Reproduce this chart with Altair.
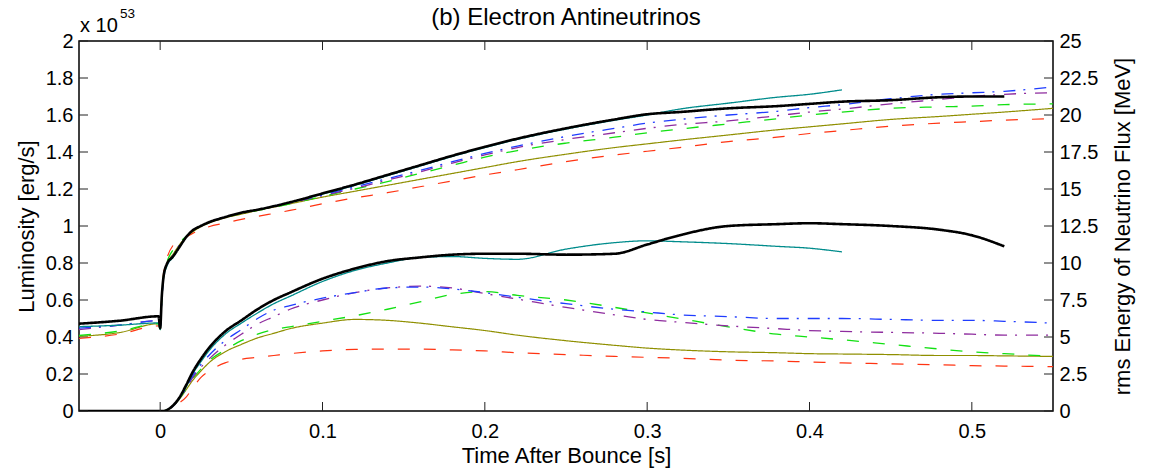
import altair as alt
import pandas as pd

# ---------------------------------------------------------------- data
# Time after bounce [s] for the luminosity curves
T_LUM = [-0.05, 0.002, 0.004, 0.008, 0.012, 0.016, 0.02, 0.025, 0.03, 0.04,
         0.05, 0.06, 0.07, 0.08,
         0.1, 0.12, 0.14, 0.16, 0.18, 0.2, 0.22, 0.25, 0.28, 0.3,
         0.32, 0.35, 0.38, 0.4, 0.42,
         0.45, 0.48, 0.5, 0.52, 0.55]

# Electron antineutrino luminosity [1e53 erg/s]
LUM_BLACK = [0, 0, 0.005, 0.03, 0.075, 0.14, 0.21, 0.28, 0.34, 0.43,
             0.49, 0.55, 0.60, 0.64,
             0.715, 0.77, 0.81, 0.83, 0.845, 0.85, 0.85, 0.845, 0.85, 0.90,
             0.95, 1.0, 1.01, 1.015, 1.01,
             1.0, 0.98, 0.95, 0.89, None]
LUM_TEAL = [0, 0, 0.005, 0.028, 0.07, 0.13, 0.20, 0.265, 0.325, 0.415,
            0.475, 0.53, 0.58, 0.62,
            0.70, 0.76, 0.80, 0.83, 0.835, 0.825, 0.82, 0.875, 0.91, 0.92,
            0.915, 0.905, 0.89, 0.88, 0.86,
            None, None, None, None, None]
LUM_BLUE = [0, 0, 0.005, 0.028, 0.07, 0.125, 0.19, 0.25, 0.30, 0.38,
            0.44, 0.50, 0.545, 0.57,
            0.61, 0.64, 0.665, 0.67, 0.66, 0.64, 0.615, 0.58, 0.55, 0.535,
            0.52, 0.51, 0.50, 0.50, 0.50,
            0.495, 0.49, 0.49, 0.485, 0.475]
LUM_PURPLE = [0, 0, 0.005, 0.028, 0.07, 0.12, 0.18, 0.235, 0.28, 0.355,
              0.415, 0.47, 0.51, 0.55,
              0.60, 0.64, 0.665, 0.675, 0.665, 0.635, 0.605, 0.56, 0.52, 0.495,
              0.48, 0.46, 0.445, 0.435, 0.43,
              0.425, 0.42, 0.415, 0.41, 0.41]
LUM_GREEN = [0, 0, 0.005, 0.028, 0.07, 0.12, 0.175, 0.225, 0.27, 0.33,
             0.38, 0.415, 0.44, 0.455,
             0.485, 0.515, 0.55, 0.59, 0.63, 0.645, 0.625, 0.60, 0.56, 0.53,
             0.50, 0.455, 0.415, 0.40, 0.385,
             0.36, 0.335, 0.32, 0.31, 0.295]
LUM_OLIVE = [0, 0, 0.005, 0.027, 0.065, 0.115, 0.165, 0.215, 0.26, 0.32,
             0.36, 0.395, 0.42, 0.445,
             0.475, 0.495, 0.49, 0.475, 0.455, 0.435, 0.41, 0.38, 0.355, 0.34,
             0.33, 0.32, 0.315, 0.31, 0.308,
             0.305, 0.30, 0.30, 0.298, 0.295]
LUM_RED = [0, 0, 0.004, 0.02, 0.045, 0.075, 0.125, 0.18, 0.215, 0.26,
           0.28, 0.29, 0.30, 0.31,
           0.325, 0.333, 0.335, 0.335, 0.33, 0.325, 0.315, 0.305, 0.295, 0.29,
           0.285, 0.275, 0.27, 0.265, 0.26,
           0.255, 0.25, 0.245, 0.243, 0.24]

# Time after bounce [s] for the rms energy curves
T_ERMS = [-0.05, -0.025, -0.001, 0.0, 0.001, 0.002, 0.004, 0.008, 0.012, 0.016,
          0.02, 0.025, 0.03, 0.04, 0.05, 0.06, 0.08,
          0.1, 0.12, 0.14, 0.16, 0.18, 0.2, 0.22, 0.25, 0.28, 0.3,
          0.32, 0.35, 0.38, 0.4, 0.42, 0.45, 0.48, 0.5, 0.52, 0.55]

# rms energy of the neutrino flux [MeV]
ERMS_BLACK = [5.9, 6.1, 6.4, 5.6, 7.75, 9.0, 9.9, 10.45, 11.1, 11.75,
              12.2, 12.5, 12.75, 13.1, 13.4, 13.6, 14.1,
              14.7, 15.3, 15.95, 16.6, 17.25, 17.85, 18.4, 19.1, 19.7, 20.05,
              20.2, 20.45, 20.6, 20.75, 20.9, 21.0, 21.2, 21.25, 21.25, None]
ERMS_TEAL = [5.7, 5.8, 5.95, 5.5, 7.5, 8.9, 9.75, 10.4, 11.1, 11.75,
             12.2, 12.5, 12.75, 13.1, 13.4, 13.6, 14.1,
             14.65, 15.25, 15.9, 16.55, 17.2, 17.8, 18.35, 19.05, 19.65, 20.0,
             20.4, 20.8, 21.2, 21.4, 21.7, None, None, None, None, None]
ERMS_BLUE = [5.6, 5.8, 6.1, 5.5, 7.5, 8.9, 9.75, 10.5, 11.2, 11.75,
             12.2, 12.5, 12.75, 13.1, 13.4, 13.6, 14.1,
             14.6, 15.15, 15.7, 16.25, 16.85, 17.4, 17.9, 18.55, 19.1, 19.45,
             19.7, 20.0, 20.25, 20.5, 20.7, 21.1, 21.4, 21.5, 21.6, 21.9]
ERMS_PURPLE = [5.5, 5.8, 6.1, 5.5, 7.5, 8.9, 9.75, 10.5, 11.2, 11.75,
               12.2, 12.5, 12.75, 13.1, 13.4, 13.6, 14.05,
               14.55, 15.05, 15.6, 16.15, 16.75, 17.3, 17.8, 18.35, 18.8, 19.1,
               19.35, 19.6, 19.95, 20.2, 20.4, 20.75, 21.05, 21.25, 21.4, 21.5]
ERMS_GREEN = [5.1, 5.4, 5.9, 5.5, 7.75, 9.1, 10.0, 10.9, 11.4, 11.8,
              12.2, 12.5, 12.75, 13.1, 13.35, 13.55, 14.0,
              14.5, 15.0, 15.5, 16.05, 16.6, 17.15, 17.6, 18.1, 18.5, 18.8,
              19.05, 19.4, 19.75, 20.0, 20.2, 20.45, 20.55, 20.6, 20.7, 20.75]
ERMS_OLIVE = [5.05, 5.3, 5.9, 5.6, 7.5, 9.0, 9.9, 10.6, 11.25, 11.75,
              12.1, 12.45, 12.7, 13.05, 13.3, 13.55, 14.0,
              14.45, 14.85, 15.25, 15.65, 16.05, 16.45, 16.85, 17.35, 17.8, 18.05,
              18.3, 18.65, 19.0, 19.2, 19.4, 19.7, 19.9, 20.05, 20.2, 20.45]
ERMS_RED = [4.9, 5.2, 5.75, 5.6, 7.75, 9.25, 10.25, 11.2, 11.5, 11.75,
            12.0, 12.25, 12.45, 12.7, 12.95, 13.15, 13.55,
            14.0, 14.4, 14.75, 15.15, 15.55, 15.95, 16.3, 16.85, 17.3, 17.55,
            17.8, 18.2, 18.5, 18.75, 18.95, 19.25, 19.45, 19.55, 19.65, 19.75]

# Axis ticks
X_TICKS = [0, 0.1, 0.2, 0.3, 0.4, 0.5]
LUM_TICKS = [0, 0.2, 0.4, 0.6, 0.8, 1.0, 1.2, 1.4, 1.6, 1.8, 2.0]
ERMS_TICKS = [0, 2.5, 5, 7.5, 10, 12.5, 15, 17.5, 20, 22.5, 25]

TITLE = "(b) Electron Antineutrinos"
X_TITLE = "Time After Bounce [s]"
LUM_TITLE = "Luminosity [erg/s]"
ERMS_TITLE = "rms Energy of Neutrino Flux [MeV]"
EXP_BASE = "x 10"
EXP_POWER = "53"

# ---------------------------------------------------------------- styling
W, H = 974, 370
FONT = "Liberation Sans"
TICK_LEN = 9

STYLE = {
    "red":    dict(color="#ff3412", width=1.2, dash=[12, 14]),
    "olive":  dict(color="#8f8f00", width=1.2, dash=[1, 0]),
    "green":  dict(color="#12e012", width=1.3, dash=[12, 14]),
    "purple": dict(color="#8e2c9e", width=1.3, dash=[12, 8, 2, 9]),
    "blue":   dict(color="#1f3cff", width=1.3, dash=[12, 8, 2, 9]),
    "teal":   dict(color="#008c8c", width=1.3, dash=[1, 0]),
    "black":  dict(color="#000000", width=2.6, dash=[1, 0]),
}
ORDER = ["red", "olive", "green", "purple", "blue", "teal", "black"]  # black drawn last

LUM = {"black": LUM_BLACK, "teal": LUM_TEAL, "blue": LUM_BLUE, "purple": LUM_PURPLE,
       "green": LUM_GREEN, "olive": LUM_OLIVE, "red": LUM_RED}
ERMS = {"black": ERMS_BLACK, "teal": ERMS_TEAL, "blue": ERMS_BLUE, "purple": ERMS_PURPLE,
        "green": ERMS_GREEN, "olive": ERMS_OLIVE, "red": ERMS_RED}


def series_frame(times, values):
    df = pd.DataFrame({"t": times, "value": pd.to_numeric(pd.Series(values), errors="coerce")})
    return df.dropna()


x_scale = alt.Scale(domain=[-0.05, 0.55], nice=False, zero=False)
lum_scale = alt.Scale(domain=[0, 2], nice=False, zero=False)
erms_scale = alt.Scale(domain=[0, 25], nice=False, zero=False)

common_axis = dict(grid=False, ticks=False, domain=False, labelFont=FONT, titleFont=FONT,
                   labelFontSize=20, titleFontSize=22, titleFontWeight="normal",
                   labelColor="black", titleColor="black", format=".1~f",
                   labelFlush=False, labelOverlap=False)

x_axis = alt.Axis(values=X_TICKS, title=X_TITLE, labelPadding=10,
                  titleY=51, titleBaseline="alphabetic", **common_axis)
lum_axis = alt.Axis(orient="left", values=LUM_TICKS, title=LUM_TITLE, labelPadding=6,
                    titleX=-46, titleY=H / 2, titleAngle=270, titleAlign="center",
                    titleBaseline="alphabetic", **common_axis)
erms_axis = alt.Axis(orient="right", values=ERMS_TICKS, title=ERMS_TITLE, labelPadding=6,
                     titleX=76, titleY=H / 2, titleAngle=270, titleAlign="center",
                     titleBaseline="alphabetic", **common_axis)

X = alt.X("t:Q", scale=x_scale, axis=x_axis)
Y_LUM = alt.Y("value:Q", scale=lum_scale, axis=lum_axis)
Y_ERMS = alt.Y("value:Q", scale=erms_scale, axis=erms_axis)


def curve(times, values, key, y):
    s = STYLE[key]
    return alt.Chart(series_frame(times, values)).mark_line(
        color=s["color"], strokeWidth=s["width"], strokeDash=s["dash"],
        interpolate="monotone", clip=True,
    ).encode(x=X, y=y)


# inward ticks on all four sides
x_tick_df = pd.DataFrame({"t": X_TICKS})
bottom_ticks = alt.Chart(x_tick_df).mark_rule(color="#222", strokeWidth=1).encode(
    x=X, y=alt.value(H), y2=alt.value(H - TICK_LEN))
top_ticks = alt.Chart(x_tick_df).mark_rule(color="#222", strokeWidth=1).encode(
    x=X, y=alt.value(0), y2=alt.value(TICK_LEN))
left_ticks = alt.Chart(pd.DataFrame({"value": LUM_TICKS})).mark_rule(
    color="#222", strokeWidth=1).encode(y=Y_LUM, x=alt.value(0), x2=alt.value(TICK_LEN))
right_ticks = alt.Chart(pd.DataFrame({"value": ERMS_TICKS})).mark_rule(
    color="#222", strokeWidth=1).encode(y=Y_ERMS, x=alt.value(W - TICK_LEN), x2=alt.value(W))

# title and the axis multiplier
title = alt.Chart(pd.DataFrame({"label": [TITLE]})).mark_text(
    font=FONT, fontSize=24, color="black", align="center", baseline="alphabetic"
).encode(text="label:N", x=alt.value(W / 2), y=alt.value(-16))
exp_base = alt.Chart(pd.DataFrame({"label": [EXP_BASE]})).mark_text(
    font=FONT, fontSize=20, color="black", align="left", baseline="alphabetic"
).encode(text="label:N", x=alt.value(1), y=alt.value(-9))
exp_power = alt.Chart(pd.DataFrame({"label": [EXP_POWER]})).mark_text(
    font=FONT, fontSize=13.5, color="black", align="left", baseline="alphabetic"
).encode(text="label:N", x=alt.value(41), y=alt.value(-23))

lum_group = alt.layer(
    *[curve(T_LUM, LUM[k], k, Y_LUM) for k in ORDER],
    left_ticks, bottom_ticks, top_ticks, title, exp_base, exp_power,
)
erms_group = alt.layer(
    *[curve(T_ERMS, ERMS[k], k, Y_ERMS) for k in ORDER],
    right_ticks,
)

chart = alt.layer(lum_group, erms_group).resolve_scale(y="independent").properties(
    width=W, height=H,
    autosize=alt.AutoSizeParams(type="none"),
    padding={"left": 79, "top": 41, "right": 1151 - 79 - W, "bottom": 469 - 41 - H},
    background="white",
).configure_view(stroke="black", strokeWidth=1.5)

chart.save("out.html", embed_options={"renderer": "svg", "actions": False})
